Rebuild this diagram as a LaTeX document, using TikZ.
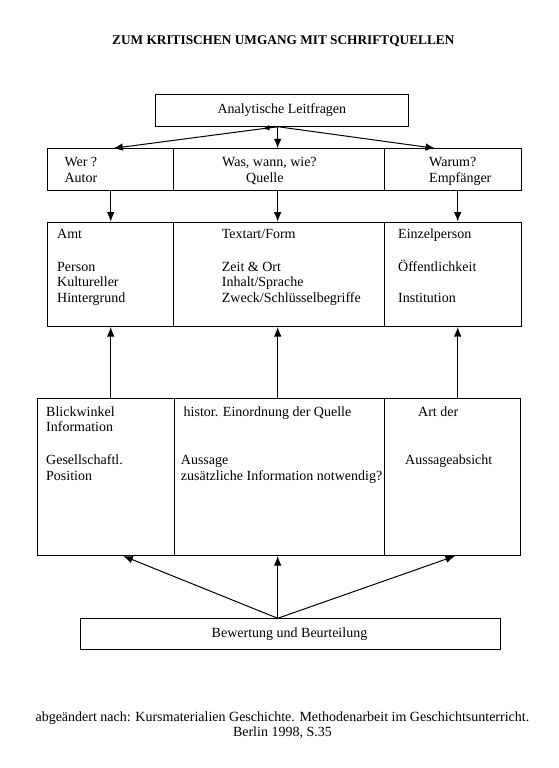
\documentclass[tikz,border=0pt]{standalone}
\usepackage{fontspec}
\setmainfont{Liberation Serif}
\usetikzlibrary{arrows.meta}
\tikzset{
  box/.style={draw, line width=1pt, inner sep=0pt, anchor=north west},
  tbox/.style={draw, line width=1pt, inner sep=0pt, anchor=north west, align=center},
  txt/.style={anchor=base west, inner sep=0pt},
  ctxt/.style={anchor=base, inner sep=0pt},
  arr/.style={-{Latex[length=9.5pt,width=7.5pt]}, line width=1pt},
  smallhead/.style={-{Latex[length=6.5pt,width=5.5pt]}, line width=1pt}
}
\begin{document}
\begin{tikzpicture}[x=1pt,y=-1pt,font=\fontsize{14pt}{16pt}\selectfont]
\useasboundingbox (0,0) rectangle (559,768);
% title
\node[ctxt, font=\fontsize{13.3pt}{16pt}\selectfont\bfseries] (title) at (283.3,45) {ZUM KRITISCHEN UMGANG MIT SCHRIFTQUELLEN};
% column coordinates
\coordinate (xa) at (110.7,0);
\coordinate (xc) at (277.7,0);
\coordinate (xe) at (457.7,0);
\coordinate (xl) at (113.3,0);
\coordinate (xr) at (435,0);
\coordinate (xbl) at (123.3,0);
\coordinate (xbr) at (455,0);
% top box
\node[tbox, minimum width=252.7pt, minimum height=31.4pt] (tb) at (155,94.3) {};
\node[inner sep=0pt] (tbt) at (tb.center) {Analytische Leitfragen};
% row 1
\node[box, minimum width=126pt, minimum height=41.7pt] (r1a) at (47.3,148.3) {};
\node[box, minimum width=210.7pt, minimum height=41.7pt] (r1b) at (173.3,148.3) {};
\node[box, minimum width=136.7pt, minimum height=41.7pt] (r1c) at (384,148.3) {};
\node[txt] (t1a1) at (64.3,166.7) {Wer ?};
\node[txt] (t1a2) at (64.3,182.5) {Autor};
\node[txt] (t1b1) at (222,166.7) {Was, wann, wie?};
\node[txt] (t1b2) at (246,182.5) {Quelle};
\node[txt] (t1c1) at (429,166.7) {Warum?};
\node[txt] (t1c2) at (429,182.5) {Empfänger};
% row 2
\node[box, minimum width=126pt, minimum height=104.3pt] (r2a) at (47.3,221.7) {};
\node[box, minimum width=210.7pt, minimum height=104.3pt] (r2b) at (173.3,221.7) {};
\node[box, minimum width=136.7pt, minimum height=104.3pt] (r2c) at (384,221.7) {};
\node[txt] (t2a1) at (57,238.8) {Amt};
\node[txt] (t2a2) at (57,271) {Person};
\node[txt] (t2a3) at (57,286.8) {Kultureller};
\node[txt] (t2a4) at (57,302.6) {Hintergrund};
\node[txt] (t2b1) at (221.7,238.8) {Textart/Form};
\node[txt] (t2b2) at (221.7,271) {Zeit \& Ort};
\node[txt] (t2b3) at (221.7,286.8) {Inhalt/Sprache};
\node[txt] (t2b4) at (221.7,302.6) {Zweck/Schlüsselbegriffe};
\node[txt] (t2c1) at (398,238.8) {Einzelperson};
\node[txt] (t2c2) at (398,271) {Öffentlichkeit};
\node[txt] (t2c3) at (398,302.6) {Institution};
% row 3
\node[box, minimum width=136.8pt, minimum height=156.7pt] (r3a) at (36.7,398.3) {};
\node[box, minimum width=210.2pt, minimum height=156.7pt] (r3b) at (173.5,398.3) {};
\node[box, minimum width=136.6pt, minimum height=156.7pt] (r3c) at (383.7,398.3) {};
\node[txt] (t3a1) at (46,416) {Blickwinkel};
\node[txt] (t3a2) at (46,431.8) {Information};
\node[txt] (t3a3) at (46,464.5) {Gesellschaftl.};
\node[txt] (t3a4) at (46,480.3) {Position};
\node[txt] (t3b1) at (183.5,416) {histor. Einordnung der Quelle};
\node[txt] (t3b2) at (180.7,464.5) {Aussage};
\node[txt] (t3b3) at (180.7,480.3) {zusätzliche Information notwendig?};
\node[txt] (t3c1) at (418,416) {Art der};
\node[txt] (t3c2) at (405,464.5) {Aussageabsicht};
% bottom box
\node[tbox, minimum width=420pt, minimum height=31pt] (bb) at (80,618.3) {};
\node[inner sep=0pt] (bbt) at ([xshift=-1pt]bb.center) {Bewertung und Beurteilung};
% footer
\node[ctxt] (f1) at (282.4,721) {abgeändert nach: Kursmaterialien Geschichte. Methodenarbeit im Geschichtsunterricht.};
\node[ctxt] (f2) at (282.4,736.5) {Berlin 1998, S.35};
% arrows top
\coordinate (src) at (tb.south -| xc);
\draw[arr] (src) -- (r1a.north -| xl);
\path (src) -- (r1a.north -| xl) coordinate[pos=0.09] (midh);
\draw[smallhead] (src) -- (midh);
\draw[arr] (src) -- (r1b.north -| xc);
\draw[arr] (src) -- (r1c.north -| xr);
% row1 -> row2
\draw[arr] (r1a.south -| xa) -- (r2a.north -| xa);
\draw[arr] (r1b.south -| xc) -- (r2b.north -| xc);
\draw[arr] (r1c.south -| xe) -- (r2c.north -| xe);
% row3 -> row2
\draw[arr] (r3a.north -| xa) -- (r2a.south -| xa);
\draw[arr] (r3b.north -| xc) -- (r2b.south -| xc);
\draw[arr] (r3c.north -| xe) -- (r2c.south -| xe);
% bottom -> row3
\coordinate (bsrc) at (bb.north -| xc);
\draw[arr] (bsrc) -- (r3a.south -| xbl);
\draw[arr] (bsrc) -- (r3b.south -| xc);
\draw[arr] (bsrc) -- (r3c.south -| xbr);
\end{tikzpicture}
\end{document}
